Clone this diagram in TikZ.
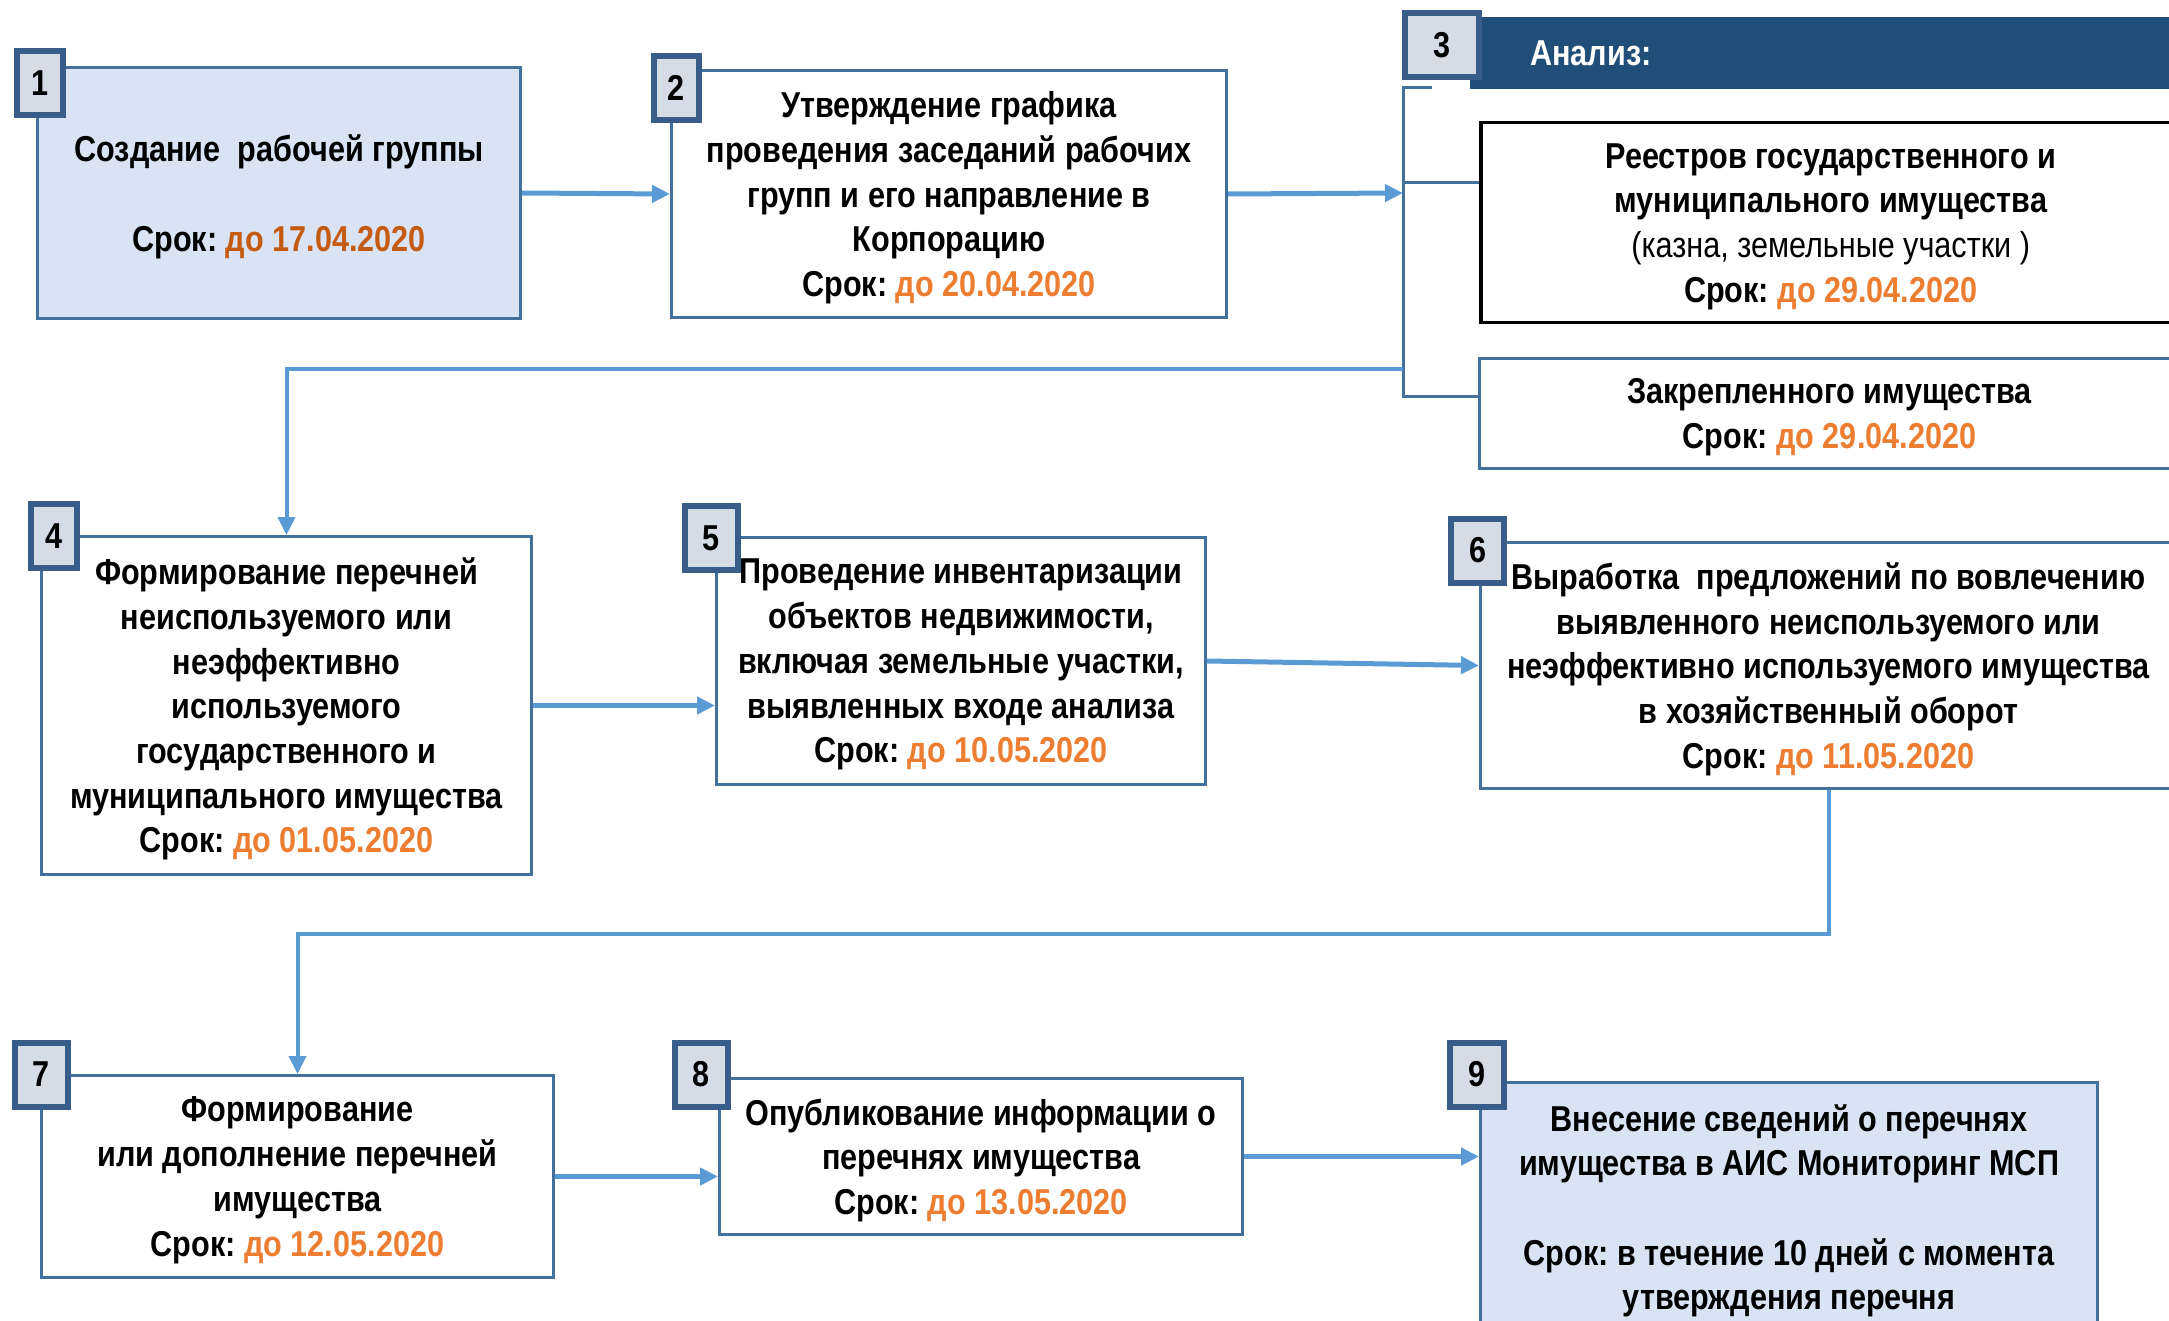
\documentclass[tikz,border=0pt]{standalone}
\usepackage{fontspec}
\setmainfont[FakeStretch=0.85]{Liberation Sans}
\usepackage{tikz}
\usetikzlibrary{arrows.meta}
\definecolor{boxblue}{HTML}{41719C}
\definecolor{numblue}{HTML}{385D8A}
\definecolor{numgray}{HTML}{D6DCE5}
\definecolor{ltblue}{HTML}{DAE3F3}
\definecolor{hdrblue}{HTML}{1F4E79}
\definecolor{arrowblue}{HTML}{5B9BD5}
\definecolor{orng}{HTML}{ED7D31}
\definecolor{dorng}{HTML}{C55A11}
\frenchspacing
\def\srok#1{Срок: \textcolor{orng}{до #1}}
\tikzset{
  box/.style={draw=boxblue, line width=3pt, fill=white, anchor=north west, align=center,
    inner sep=0pt, text depth=0pt, font=\fontsize{36}{44.7}\selectfont\bfseries},
  num/.style={draw=numblue, line width=6pt, fill=numgray, inner sep=0pt, minimum height=64pt,
    font=\fontsize{36}{42}\selectfont\bfseries},
  link/.style={draw=arrowblue, line width=5pt, -{Triangle[length=18pt,width=17pt]}},
  brk/.style={draw=boxblue, line width=3pt}
}

\begin{document}
\begin{tikzpicture}[x=1pt, y=-1pt]
        \useasboundingbox (0,0) rectangle (2169,1321);
        \clip (0,0) rectangle (2169,1321);
        % boxes
        \node[box, fill=ltblue, minimum width=483pt, minimum height=251pt] (b1) at (36,66)
          {Создание~ рабочей группы\\[44.7pt]Срок: \textcolor{dorng}{до 17.04.2020}};
        \node[box, minimum width=555pt, minimum height=247pt] (b2) at (670,69)
          {Утверждение графика\\проведения заседаний рабочих\\групп и его направление в\\Корпорацию\\\srok{20.04.2020}};
        \node[box, draw=black, line width=3.5pt, minimum width=700pt, minimum height=200pt] (b3a) at (1479,121)
          {Реестров государственного и\\муниципального имущества\\{\mdseries (казна, земельные участки )}\\\srok{29.04.2020}};
        \node[box, minimum width=700pt, minimum height=110pt] (b3b) at (1478,357)
          {Закрепленного имущества\\\srok{29.04.2020}};
        \node[box, minimum width=490pt, minimum height=338pt] (b4) at (40,535)
          {Формирование перечней\\неиспользуемого или\\неэффективно\\используемого\\государственного и\\муниципального имущества\\\srok{01.05.2020}};
        \node[box, minimum width=489pt, minimum height=247pt] (b5) at (715,536)
          {Проведение инвентаризации\\объектов недвижимости,\\включая земельные участки,\\выявленных входе анализа\\\srok{10.05.2020}};
        \node[box, minimum width=696pt, minimum height=246pt] (b6) at (1479,541)
          {Выработка~ предложений по вовлечению\\выявленного неиспользуемого или\\неэффективно используемого имущества\\в хозяйственный оборот\\\srok{11.05.2020}};
        \node[box, minimum width=512pt, minimum height=202pt] (b7) at (40,1074)
          {Формирование\\или дополнение перечней\\имущества\\\srok{12.05.2020}};
        \node[box, minimum width=523pt, minimum height=156pt] (b8) at (718,1077)
          {Опубликование информации о\\перечнях имущества\\\srok{13.05.2020}};
        \node[box, fill=ltblue, minimum width=617pt, minimum height=249pt] (b9) at (1479,1081)
          {Внесение сведений о перечнях\\имущества в АИС Мониторинг МСП\\[44.7pt]Срок: в течение 10 дней с момента\\утверждения перечня};
        % header of 3
        \node[fill=hdrblue, anchor=north west, minimum width=710pt, minimum height=72pt, inner xsep=60pt,
          text width=590pt, align=left, text=white, font=\fontsize{36}{42}\selectfont\bfseries] (hdr) at (1470,17) {Анализ:};
        % numbers
        \foreach \n/\x/\y/\w in {1/40/83/46, 2/676.5/88/45, 3/1442/45.5/74, 4/54/536/46, 5/711.5/538/53,
            6/1477.5/550.5/53, 7/41.5/1074.5/53, 8/701.5/1074.5/53, 9/1477/1074.5/54}{
          \node[num, minimum width=\w pt] (n\n) at (\x,\y) {\n};
        }
        % bracket of 3
        \coordinate (brt) at (1403,88);
        \coordinate (br) at (1403,193);
        \coordinate (bra) at (1403,183);
        \coordinate (br4) at (1403,369);
        \coordinate (brb) at (1403,397);
        \draw[brk] (1432,88) -- (brt) -- (brb) -- (brb -| b3b.west);
        \draw[brk] (bra) -- (bra -| b3a.west);
        % links
        \draw[link] (b1.east) -- (b2.west);
        \draw[link] (b2.east) -- (br);
        \draw[link, line width=4pt] (br4) -- (br4 -| b4.north) -- (b4.north);
        \draw[link] (b4.east) -- (b4.east -| b5.west);
        \draw[link] (b5.east) -- (b6.west);
        \draw[link, line width=4pt] (b6.south) -- ++(0,144) -| (b7.north);
        \draw[link] (b7.east) -- (b7.east -| b8.west);
        \draw[link] (b8.east) -- (b8.east -| b9.west);
\end{tikzpicture}
\end{document}
